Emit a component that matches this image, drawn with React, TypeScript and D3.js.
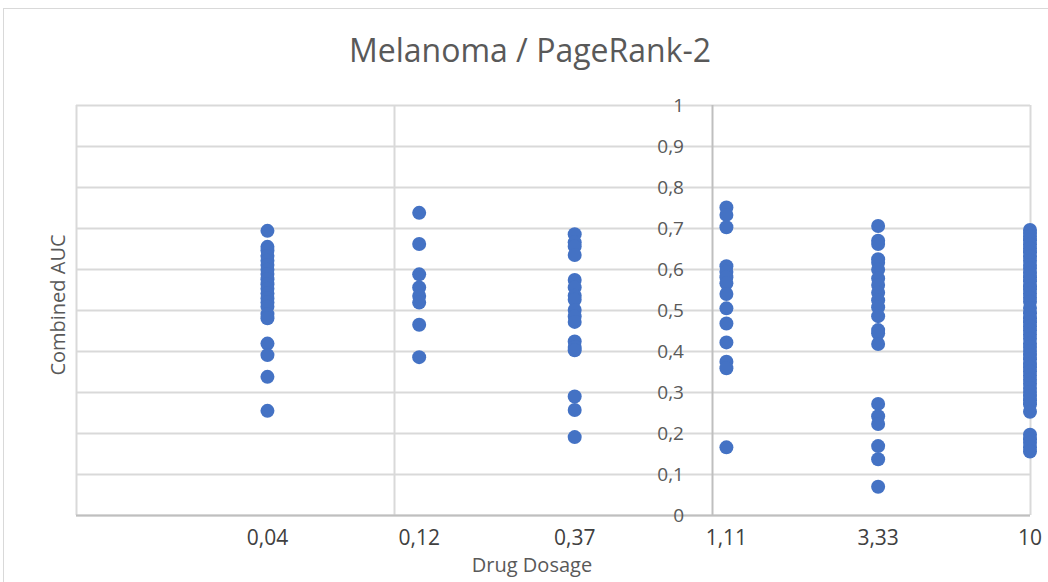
import * as d3 from 'd3';

const dosages = [0.04, 0.12, 0.37, 1.11, 3.33, 10];
const dosageLabels = ['0,04', '0,12', '0,37', '1,11', '3,33', '10'];

const auc004 = [0.693, 0.654, 0.645, 0.632, 0.62, 0.61, 0.598, 0.588, 0.575, 0.563, 0.552, 0.54, 0.528, 0.518, 0.508, 0.49, 0.48, 0.418, 0.39, 0.337, 0.254];
const auc012 = [0.737, 0.661, 0.587, 0.555, 0.534, 0.518, 0.464, 0.385];
const auc037 = [0.685, 0.665, 0.655, 0.634, 0.573, 0.555, 0.535, 0.525, 0.5, 0.484, 0.471, 0.423, 0.41, 0.402, 0.289, 0.256, 0.19];
const auc111 = [0.75, 0.732, 0.702, 0.607, 0.593, 0.58, 0.565, 0.539, 0.504, 0.467, 0.421, 0.374, 0.358, 0.165];
const auc333 = [0.705, 0.669, 0.661, 0.624, 0.615, 0.598, 0.577, 0.561, 0.542, 0.524, 0.507, 0.485, 0.451, 0.443, 0.417, 0.271, 0.241, 0.222, 0.168, 0.136, 0.069];
const auc10 = [0.695, 0.688, 0.679, 0.67, 0.66, 0.65, 0.641, 0.63, 0.62, 0.61, 0.601, 0.59, 0.58, 0.57, 0.558, 0.55, 0.54, 0.53, 0.52, 0.505, 0.492, 0.48, 0.47, 0.46, 0.45, 0.44, 0.43, 0.418, 0.41, 0.4, 0.39, 0.38, 0.368, 0.36, 0.35, 0.34, 0.33, 0.32, 0.31, 0.3, 0.29, 0.28, 0.27, 0.252, 0.196, 0.185, 0.176, 0.165, 0.155];

const series = [auc004, auc012, auc037, auc111, auc333, auc10];
const yTicks = d3.range(0, 11).map((i) => i / 10);
const xGrid = [0.01, 0.1, 1, 10];

export default function App() {
  const margin = { left: 76, right: 18, top: 105, bottom: 67 };
  const width = 1048;
  const height = 582;

  const x = d3.scaleLog().domain([0.01, 10]).range([margin.left, width - margin.right]);
  const y = d3.scaleLinear().domain([0, 1]).range([height - margin.bottom, margin.top]);

  const font = '"Open Sans", Lato, sans-serif';
  const textColor = '#595959';

  const points = series.flatMap((vals, i) => vals.map((v) => ({ dose: dosages[i], auc: v })));

  return (
    <svg width={width} height={height} style={{ position: 'absolute', left: 0, top: 0, background: '#fff' }}>
      <rect x={3.5} y={8.5} width={width + 10} height={height + 10} fill="#fff" stroke="#d9d9d9" />
      <text x={530} y={62} textAnchor="middle" fontFamily={font} fontSize={32} fill={textColor}>
        Melanoma / PageRank-2
      </text>

      {yTicks.map((t) => (
        <line key={'h' + t} x1={x(0.01)} x2={x(10)} y1={Math.round(y(t)) + 0.5} y2={Math.round(y(t)) + 0.5} stroke="#d9d9d9" strokeWidth={2} />
      ))}
      {xGrid.map((g) => (
        <line key={'v' + g} x1={Math.round(x(g)) + 0.5} x2={Math.round(x(g)) + 0.5} y1={y(1)} y2={y(0)} stroke={g === 1 ? '#bfbfbf' : '#d9d9d9'} strokeWidth={2} />
      ))}
      <line x1={x(0.01)} x2={x(10)} y1={Math.round(y(0)) + 0.5} y2={Math.round(y(0)) + 0.5} stroke="#bfbfbf" strokeWidth={2} />

      {yTicks.map((t) => (
        <text key={'yl' + t} x={x(1) - 28} y={y(t)} dy="0.35em" textAnchor="end" fontFamily={font} fontSize={19} fill={textColor}>
          {d3.format('.1f')(t).replace('.', ',').replace(/^0,0$/, '0').replace(/^1,0$/, '1')}
        </text>
      ))}

      {dosages.map((d, i) => (
        <text key={'xl' + d} x={x(d)} y={545} textAnchor="middle" fontFamily={font} fontSize={21} fill="#404040">
          {dosageLabels[i]}
        </text>
      ))}

      <text x={532} y={572} textAnchor="middle" fontFamily={font} fontSize={20} fill={textColor}>
        Drug Dosage
      </text>
      <text transform={`translate(65,305) rotate(-90)`} textAnchor="middle" fontFamily={font} fontSize={20} fill={textColor}>
        Combined AUC
      </text>

      {points.map((p, i) => (
        <circle key={i} cx={x(p.dose)} cy={y(p.auc)} r={7} fill="#4472c4" />
      ))}
    </svg>
  );
}
